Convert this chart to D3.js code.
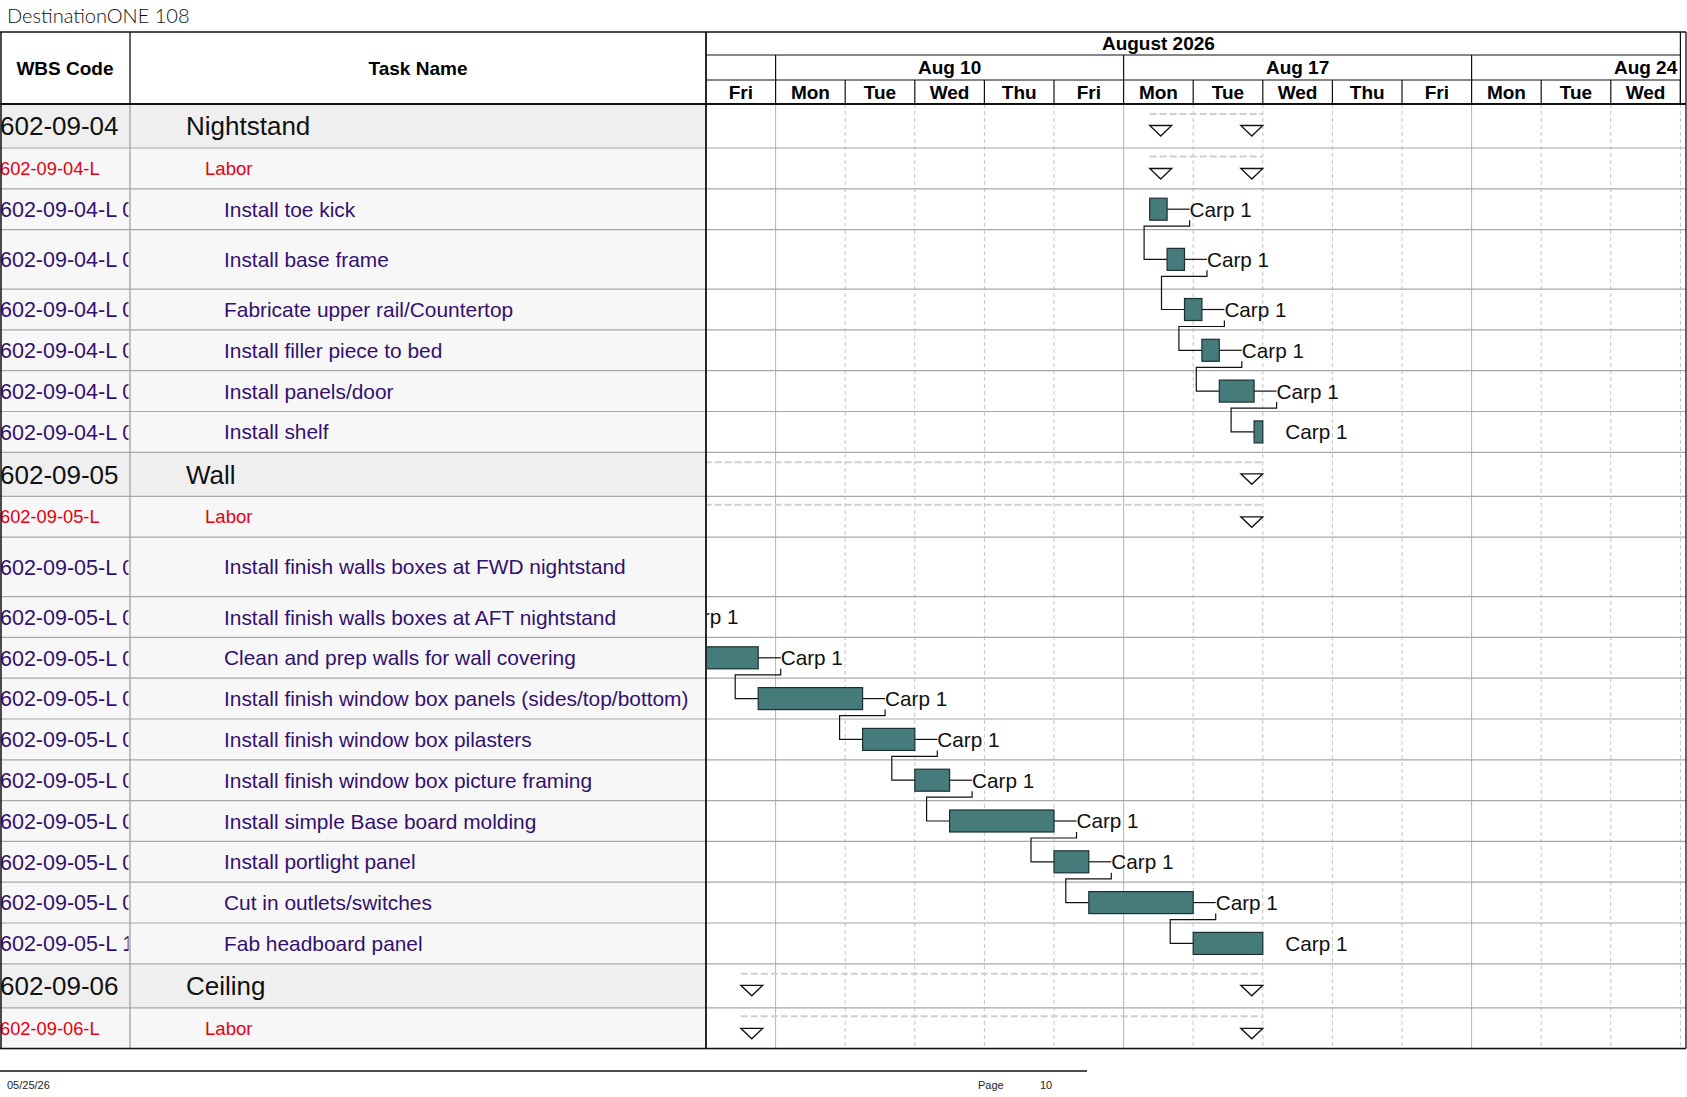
<!DOCTYPE html>
<html>
<head>
<meta charset="utf-8">
<script src="https://cdn.jsdelivr.net/npm/d3@7"></script>
<style>
  body { margin: 0; background: #fff; }
  svg { display: block; }
  text { font-family: "Liberation Sans", Arial, sans-serif; }
</style>
</head>
<body>
<svg id="chart"></svg>
<script>
// ---- data ----
const title = 'DestinationONE 108';
const monthLabel = 'August 2026';
const weekLabels = ['Aug 10', 'Aug 17', 'Aug 24'];
const dayLabels = ['Fri', 'Mon', 'Tue', 'Wed', 'Thu', 'Fri', 'Mon', 'Tue', 'Wed', 'Thu', 'Fri', 'Mon', 'Tue', 'Wed'];

const wbsCodes = [
  '602-09-04', '602-09-04-L',
  '602-09-04-L 010', '602-09-04-L 020', '602-09-04-L 030', '602-09-04-L 040', '602-09-04-L 050', '602-09-04-L 060',
  '602-09-05', '602-09-05-L',
  '602-09-05-L 010', '602-09-05-L 020', '602-09-05-L 030', '602-09-05-L 040', '602-09-05-L 050',
  '602-09-05-L 060', '602-09-05-L 070', '602-09-05-L 080', '602-09-05-L 090', '602-09-05-L 100',
  '602-09-06', '602-09-06-L'
];
const taskNames = [
  'Nightstand', 'Labor',
  'Install toe kick', 'Install base frame', 'Fabricate upper rail/Countertop', 'Install filler piece to bed',
  'Install panels/door', 'Install shelf',
  'Wall', 'Labor',
  'Install finish walls boxes at FWD nightstand', 'Install finish walls boxes at AFT nightstand',
  'Clean and prep walls for wall covering', 'Install finish window box panels (sides/top/bottom)',
  'Install finish window box pilasters', 'Install finish window box picture framing',
  'Install simple Base board molding', 'Install portlight panel', 'Cut in outlets/switches', 'Fab headboard panel',
  'Ceiling', 'Labor'
];
// 1 = section, 2 = labor summary, 3 = task
const outlineLevel = [1, 2, 3, 3, 3, 3, 3, 3, 1, 2, 3, 3, 3, 3, 3, 3, 3, 3, 3, 3, 1, 2];
// working hours counted from Fri Aug 7, 8:00 (8 h per working day)
const startHours = [51, 51, 51, 53, 55, 57, 59, 63, -22, -22, -22, -14, -6, 6, 18, 24, 28, 40, 44, 56, 4, 4];
const finishHours = [64, 64, 53, 55, 57, 59, 63, 64, 64, 64, -14, -6, 6, 18, 24, 28, 40, 44, 56, 64, 64, 64];
const predecessors = [null, null, null, 2, 3, 4, 5, 6, null, null, null, 10, 11, 12, 13, 14, 15, 16, 17, 18, null, null];
const resourceNames = ['', '', 'Carp 1', 'Carp 1', 'Carp 1', 'Carp 1', 'Carp 1', 'Carp 1', '', '',
  'Carp 1', 'Carp 1', 'Carp 1', 'Carp 1', 'Carp 1', 'Carp 1', 'Carp 1', 'Carp 1', 'Carp 1', 'Carp 1', '', ''];
const footerDate = '05/25/26';
const pageNumber = '10';

// ---- layout ----
const W = 1687, H = 1097;
const tableTop = 32, monthBottom = 55, weekBottom = 80, headerBottom = 104;
const wbsRight = 130, tableRight = 706, chartRight = 1686;
const dayW = 69.6, hoursPerDay = 8;
const labelGap = 22.5, labelW = 62;
const tallRows = new Set([3, 10]); // rows whose text wraps in the source
const rowHeight = i => tallRows.has(i) ? 59.5 : (outlineLevel[i] === 1 ? 44 : 40.8);

const rows = [];
let yAcc = headerBottom;
wbsCodes.forEach((code, i) => {
  const h = rowHeight(i);
  rows.push({ i, code, name: taskNames[i], level: outlineLevel[i], top: yAcc, h,
    start: startHours[i], finish: finishHours[i], pred: predecessors[i], res: resourceNames[i] });
  yAcc += h;
});
const tableBottom = yAcc;
const hasSuccessor = new Set(predecessors.filter(p => p !== null));

const x = d3.scaleLinear()
  .domain([0, dayLabels.length * hoursPerDay])
  .range([tableRight, tableRight + dayLabels.length * dayW]);
const dayX = d => x(d * hoursPerDay);

const svg = d3.select('#chart').attr('width', W).attr('height', H);
const defs = svg.append('defs');
const addClip = (id, x0, y0, w, h) => defs.append('clipPath').attr('id', id)
  .append('rect').attr('x', x0).attr('y', y0).attr('width', w).attr('height', h);
addClip('clip-wbs', 0, tableTop, wbsRight - 1.5, H);
addClip('clip-task', wbsRight, tableTop, tableRight - wbsRight, H);
addClip('clip-chart', tableRight + 1, tableTop, chartRight - tableRight - 1, H);

const textColor = { 1: '#111', 2: '#e4000f', 3: '#33106e' };
const codeSize = { 1: 26, 2: 18.3, 3: 21.5 };
const nameSize = { 1: 26, 2: 18.6, 3: 20.9 };
const nameIndent = { 1: 186, 2: 205, 3: 224 };

// ---- table backgrounds ----
svg.append('g').selectAll('rect')
  .data(rows).enter().append('rect')
  .attr('x', 0).attr('y', d => d.top)
  .attr('width', tableRight).attr('height', d => d.h)
  .attr('fill', d => d.level === 1 ? '#efefef' : '#f7f7f7');

// ---- chart grid ----
const grid = svg.append('g');
grid.selectAll('line.day')
  .data(d3.range(1, dayLabels.length + 1)).enter().append('line')
  .attr('x1', d => dayX(d)).attr('x2', d => dayX(d))
  .attr('y1', headerBottom).attr('y2', tableBottom)
  .attr('stroke', d => dayLabels[d] === 'Mon' ? '#b4b4b4' : '#c4c4c4')
  .attr('stroke-dasharray', d => dayLabels[d] === 'Mon' ? null : '4,3')
  .attr('stroke-width', 1);

grid.selectAll('line.row')
  .data(rows).enter().append('line')
  .attr('x1', 0).attr('x2', chartRight)
  .attr('y1', d => d.top + d.h).attr('y2', d => d.top + d.h)
  .attr('stroke', '#a8a8a8').attr('stroke-width', 1.2);

grid.append('line')
  .attr('x1', wbsRight).attr('x2', wbsRight)
  .attr('y1', headerBottom).attr('y2', tableBottom)
  .attr('stroke', '#9a9a9a').attr('stroke-width', 1.2);

// ---- table text ----
svg.append('g').attr('clip-path', 'url(#clip-wbs)')
  .selectAll('text').data(rows).enter().append('text')
  .attr('x', 0).attr('y', d => d.top + d.h / 2)
  .attr('dy', '0.36em')
  .style('font-size', d => codeSize[d.level] + 'px')
  .attr('fill', d => textColor[d.level])
  .text(d => d.code);

svg.append('g').attr('clip-path', 'url(#clip-task)')
  .selectAll('text').data(rows).enter().append('text')
  .attr('x', d => nameIndent[d.level]).attr('y', d => d.top + d.h / 2)
  .attr('dy', '0.36em')
  .style('font-size', d => nameSize[d.level] + 'px')
  .attr('fill', d => textColor[d.level])
  .text(d => d.name);

// ---- gantt marks ----
const gantt = svg.append('g').attr('clip-path', 'url(#clip-chart)');
const summaries = rows.filter(d => d.level < 3);
const tasks = rows.filter(d => d.level === 3);
const barH = 22;
const barTop = d => d.top + d.h / 2 - barH / 2;

gantt.selectAll('line.summary')
  .data(summaries).enter().append('line')
  .attr('x1', d => x(d.start)).attr('x2', d => x(d.finish))
  .attr('y1', d => d.top + (d.level === 1 ? 10 : 8.5))
  .attr('y2', d => d.top + (d.level === 1 ? 10 : 8.5))
  .attr('stroke', '#d0d0d0').attr('stroke-width', 2)
  .attr('stroke-dasharray', '7,3');

const triangle = (x0, y0) => `M${x0},${y0}L${x0 + 22},${y0}L${x0 + 11},${y0 + 10.5}Z`;
gantt.selectAll('path.tri')
  .data(summaries.flatMap(d => [
    { x0: x(d.start), y0: d.top + (d.level === 1 ? 21.5 : 20.5) },
    { x0: x(d.finish) - 22, y0: d.top + (d.level === 1 ? 21.5 : 20.5) }
  ])).enter().append('path')
  .attr('d', d => triangle(d.x0, d.y0))
  .attr('fill', '#fff').attr('stroke', '#111').attr('stroke-width', 1.3);

// dependency links (finish-to-start)
gantt.selectAll('path.link')
  .data(tasks.filter(d => d.pred !== null)).enter().append('path')
  .attr('d', d => {
    const p = rows[d.pred];
    const px = x(p.finish) + labelGap;
    const py = barTop(p) + barH;
    const sx = x(d.start);
    return `M${px},${py}V${py + 6}H${sx - 23}V${d.top + d.h / 2}H${sx}`;
  })
  .attr('fill', 'none').attr('stroke', '#111').attr('stroke-width', 1.2);

gantt.selectAll('line.leader')
  .data(tasks.filter(d => hasSuccessor.has(d.i))).enter().append('line')
  .attr('x1', d => x(d.finish)).attr('x2', d => x(d.finish) + labelGap)
  .attr('y1', d => d.top + d.h / 2).attr('y2', d => d.top + d.h / 2)
  .attr('stroke', '#111').attr('stroke-width', 1.2);

gantt.selectAll('rect.bar')
  .data(tasks).enter().append('rect')
  .attr('x', d => x(d.start)).attr('y', barTop)
  .attr('width', d => x(d.finish) - x(d.start)).attr('height', barH)
  .attr('fill', '#467b7c').attr('stroke', '#1c2f30').attr('stroke-width', 1.2);

// resource labels; those lying wholly left of the timescale are not drawn
gantt.selectAll('text.res')
  .data(tasks.filter(d => x(d.finish) + labelGap + labelW > tableRight)).enter().append('text')
  .attr('x', d => x(d.finish) + labelGap).attr('y', d => d.top + d.h / 2)
  .attr('dy', '0.36em')
  .style('font-size', '20.7px').attr('fill', '#111')
  .text(d => d.res);

// ---- header ----
const header = svg.append('g');
header.append('text')
  .attr('x', wbsRight / 2).attr('y', (tableTop + headerBottom) / 2).attr('dy', '0.36em')
  .attr('text-anchor', 'middle').style('font-size', '19px').style('font-weight', 'bold')
  .text('WBS Code');
header.append('text')
  .attr('x', (wbsRight + tableRight) / 2).attr('y', (tableTop + headerBottom) / 2).attr('dy', '0.36em')
  .attr('text-anchor', 'middle').style('font-size', '19px').style('font-weight', 'bold')
  .text('Task Name');
header.append('line')
  .attr('x1', wbsRight).attr('x2', wbsRight).attr('y1', tableTop).attr('y2', headerBottom)
  .attr('stroke', '#111').attr('stroke-width', 1.3);

const tsRight = dayX(dayLabels.length);
const th = header.append('g').attr('clip-path', 'url(#clip-chart)');
th.append('text')
  .attr('x', (dayX(0) + dayX(dayLabels.length - 1)) / 2).attr('y', (tableTop + monthBottom) / 2).attr('dy', '0.36em')
  .attr('text-anchor', 'middle').style('font-size', '19px').style('font-weight', 'bold')
  .text(monthLabel);

const mondays = dayLabels.map((d, i) => d === 'Mon' ? i : null).filter(i => i !== null);
th.selectAll('text.week')
  .data(mondays).enter().append('text')
  .attr('x', d => dayX(d + 2.5)).attr('y', (monthBottom + weekBottom) / 2).attr('dy', '0.36em')
  .attr('text-anchor', 'middle').style('font-size', '19px').style('font-weight', 'bold')
  .text((d, i) => weekLabels[i]);
th.selectAll('line.week')
  .data(mondays).enter().append('line')
  .attr('x1', d => dayX(d)).attr('x2', d => dayX(d))
  .attr('y1', monthBottom).attr('y2', weekBottom)
  .attr('stroke', '#111').attr('stroke-width', 1.2);

th.selectAll('text.day')
  .data(dayLabels).enter().append('text')
  .attr('x', (d, i) => dayX(i + 0.5)).attr('y', (weekBottom + headerBottom) / 2).attr('dy', '0.36em')
  .attr('text-anchor', 'middle').style('font-size', '19px').style('font-weight', 'bold')
  .text(d => d);
th.selectAll('line.day')
  .data(d3.range(1, dayLabels.length + 1)).enter().append('line')
  .attr('x1', d => dayX(d)).attr('x2', d => dayX(d))
  .attr('y1', weekBottom).attr('y2', headerBottom)
  .attr('stroke', '#111').attr('stroke-width', 1.2);

[monthBottom, weekBottom].forEach(yy => {
  header.append('line')
    .attr('x1', tableRight).attr('x2', tsRight).attr('y1', yy).attr('y2', yy)
    .attr('stroke', '#111').attr('stroke-width', 1.2);
});
header.append('line')
  .attr('x1', tsRight).attr('x2', tsRight).attr('y1', tableTop).attr('y2', headerBottom)
  .attr('stroke', '#111').attr('stroke-width', 1.2);

// ---- outer frame ----
const frame = svg.append('g').attr('stroke', '#111').attr('fill', 'none');
frame.append('line').attr('x1', 0).attr('x2', chartRight).attr('y1', tableTop).attr('y2', tableTop).attr('stroke-width', 1.5);
frame.append('line').attr('x1', 0).attr('x2', chartRight).attr('y1', headerBottom).attr('y2', headerBottom).attr('stroke-width', 2.2);
frame.append('line').attr('x1', 0).attr('x2', chartRight).attr('y1', tableBottom).attr('y2', tableBottom).attr('stroke-width', 1.5);
frame.append('line').attr('x1', 1).attr('x2', 1).attr('y1', tableTop).attr('y2', tableBottom).attr('stroke-width', 1.5);
frame.append('line').attr('x1', tableRight).attr('x2', tableRight).attr('y1', tableTop).attr('y2', tableBottom).attr('stroke-width', 1.8);
frame.append('line').attr('x1', chartRight).attr('x2', chartRight).attr('y1', tableTop).attr('y2', tableBottom).attr('stroke-width', 1.3);

// ---- title and footer ----
svg.append('text')
  .attr('x', 7).attr('y', 16).attr('dy', '0.36em')
  .style('font-family', 'Lato, "Open Sans", sans-serif').style('font-weight', 300)
  .style('font-size', '20px').attr('fill', '#111')
  .text(title);

svg.append('line')
  .attr('x1', 0).attr('x2', 1087).attr('y1', 1071).attr('y2', 1071)
  .attr('stroke', '#111').attr('stroke-width', 1.5);
const footer = svg.append('g').style('font-size', '11px').attr('fill', '#222');
footer.append('text').attr('x', 7).attr('y', 1089).text(footerDate);
footer.append('text').attr('x', 978).attr('y', 1089).text('Page');
footer.append('text').attr('x', 1040).attr('y', 1089).text(pageNumber);
</script>
</body>
</html>
